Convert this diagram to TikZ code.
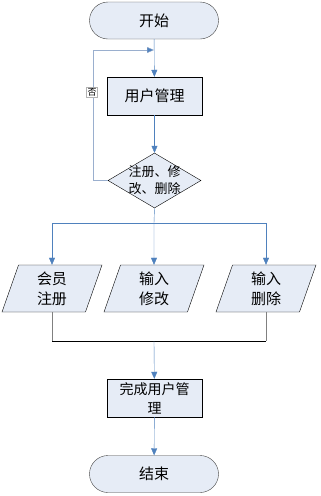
\documentclass[tikz,border=0pt]{standalone}
\usepackage{fontspec}
\newfontfamily\cjk{Noto Sans CJK SC}
\usetikzlibrary{shapes.geometric,arrows.meta}
\definecolor{boxfill}{HTML}{E6ECF6}
\definecolor{arrowblue}{HTML}{4F81BD}
\definecolor{loopblue}{HTML}{9AAFCE}
\tikzset{
  every node/.style={font=\cjk\fontsize{15}{20}\selectfont, inner sep=0pt},
  terminal/.style={draw=black!75, fill=boxfill, rounded corners=18.5pt, minimum width=129pt, minimum height=37pt},
  procbox/.style={draw=black, fill=boxfill, minimum width=95pt, minimum height=38pt, align=center},
  decision/.style={draw=black, fill=boxfill, diamond, minimum width=93pt, minimum height=55pt},
  iobox/.style={draw=black, fill=boxfill, trapezium, trapezium left angle=64, trapezium right angle=116,
    trapezium stretches body, minimum width=100pt, minimum height=47pt, align=center},
  flow/.style={draw=arrowblue, -{Triangle[width=6pt,length=7pt]}},
  loopline/.style={draw=loopblue, -{Triangle[width=6pt,length=7pt,fill=arrowblue]}},
  joinv/.style={draw=black!50},
  joinh/.style={draw=black},
  notelabel/.style={draw=black!30, fill=white, font=\cjk\fontsize{9}{10}\selectfont, inner sep=1pt}
}
\begin{document}
\begin{tikzpicture}[x=1pt,y=-1pt]
\useasboundingbox (0,0) rectangle (321,496);
\node[terminal] (start) at (154,20.5) {开始};
\node[procbox] (user) at (154.5,96) {用户管理};
\node[decision] (dia) at (154.5,180.5) {};
\node[align=center, font=\cjk\fontsize{13}{17}\selectfont] (diatext) at (154.5,180) {注册、修\\改、删除};
\node[iobox] (p1) at (52,288.5) {会员\\注册};
\node[iobox] (p2) at (154,288.5) {输入\\修改};
\node[iobox] (p3) at (266,288.5) {输入\\删除};
\node[procbox, font=\cjk\fontsize{14}{19}\selectfont] (done) at (154.5,398) {完成用户管\\理};
\node[terminal] (end) at (154,474) {结束};
\coordinate (loopin) at (154,50);
\coordinate (loopcorner) at (93,50);
\coordinate (split) at (154,223);
\coordinate (join) at (154,341);

\draw[flow] (start) -- (user);
\draw[flow] (user) -- (dia.north);
\draw[loopline] (dia.west) -| (loopcorner) -- (loopin);
\node[notelabel] (no) at (92,92) {否};
\draw[draw=arrowblue] (dia.south) -- (split);
\draw[flow] (split) -- (p2.north);
\draw[flow] (split) -| (p1.north);
\draw[flow] (split) -| (p3.north);
\draw[joinv] (p1.south) -- (p1.south |- join);
\draw[joinv] (p3.south) -- (p3.south |- join);
\draw[joinh] (p1.south |- join) -- (p3.south |- join);
\draw[flow] (join) -- (done);
\draw[flow] (done) -- (end);
\end{tikzpicture}
\end{document}
